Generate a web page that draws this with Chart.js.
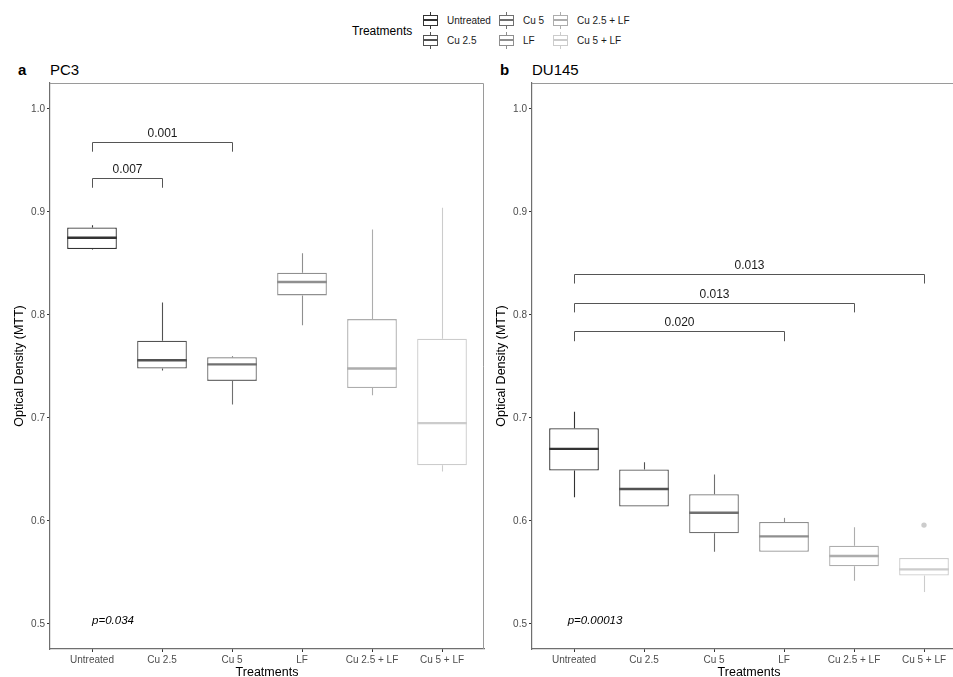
<!DOCTYPE html>
<html>
<head>
<meta charset="utf-8">
<title>Optical Density (MTT) - PC3 / DU145</title>
<script src="https://cdn.jsdelivr.net/npm/chart.js@4.4.1/dist/chart.umd.min.js"></script>
<style>
    html, body {
        margin: 0;
        padding: 0;
        width: 953px;
        height: 677px;
        overflow: hidden;
        background: #fff;
        font-family: 'Liberation Sans', Arial, sans-serif;
        position: relative;
    }
    .panel {
        position: absolute;
        top: 60px;
        width: 492px;
        height: 620px;
    }
    .panel-tag {
        position: absolute;
        top: 61px;
        font-size: 15px;
        line-height: 18px;
        font-weight: bold;
        color: #000;
    }
    .panel-title {
        position: absolute;
        top: 61px;
        font-size: 15px;
        line-height: 18px;
        color: #000;
    }
    .legend-title {
        position: absolute;
        left: 352px;
        top: 24px;
        font-size: 12px;
        line-height: 15px;
        color: #000;
    }
    .legend-label {
        position: absolute;
        font-size: 10px;
        line-height: 12px;
        color: #1a1a1a;
        white-space: nowrap;
    }
    .legend-key {
        position: absolute;
        width: 15px;
        height: 17px;
    }
    .legend-key .whisker {
        position: absolute;
        left: 7px;
        width: 1px;
        height: 3px;
    }
    .legend-key .box {
        position: absolute;
        left: 0;
        top: 3px;
        width: 13px;
        height: 9px;
        border: 1px solid;
        background: #fff;
    }
    .legend-key .median {
        position: absolute;
        left: 0;
        top: 7px;
        width: 15px;
        height: 2px;
    }
</style>
</head>
<body>

<div class="legend-title">Treatments</div>
<div id="legend"></div>

<div class="panel-tag" style="left:18px;">a</div>
<div class="panel-title" style="left:50px;">PC3</div>
<div class="panel-tag" style="left:500px;">b</div>
<div class="panel-title" style="left:532px;">DU145</div>

<canvas id="chart-pc3" class="panel" width="492" height="620" style="left:0px;"></canvas>
<canvas id="chart-du145" class="panel" width="492" height="620" style="left:482px;"></canvas>

<script>
/**
 * Datos
 */
const categories = ['Untreated', 'Cu 2.5', 'Cu 5', 'LF', 'Cu 2.5 + LF', 'Cu 5 + LF'];
const categoryColors = ['#333333', '#525252', '#707070', '#8f8f8f', '#adadad', '#cccccc'];
const yTickValues = [0.5, 0.6, 0.7, 0.8, 0.9, 1.0];

// PC3
const pc3Min = [0.8635, 0.746, 0.713, 0.790, 0.722, 0.648];
const pc3Q1 = [0.864, 0.748, 0.736, 0.819, 0.729, 0.654];
const pc3Median = [0.875, 0.756, 0.752, 0.832, 0.748, 0.695];
const pc3Q3 = [0.885, 0.775, 0.759, 0.841, 0.796, 0.777];
const pc3Max = [0.887, 0.812, 0.760, 0.860, 0.883, 0.904];
const pc3OutlierCats = [];
const pc3OutlierValues = [];
const pc3BracketFrom = [0, 0];
const pc3BracketTo = [1, 2];
const pc3BracketY = [0.933, 0.968];
const pc3BracketLabels = ['0.007', '0.001'];
const pc3PValue = 'p=0.034';

// DU145
const du145Min = [0.623, 0.614, 0.570, 0.570, 0.542, 0.531];
const du145Q1 = [0.649, 0.614, 0.588, 0.570, 0.556, 0.547];
const du145Median = [0.670, 0.631, 0.608, 0.585, 0.566, 0.553];
const du145Q3 = [0.690, 0.650, 0.626, 0.599, 0.576, 0.564];
const du145Max = [0.706, 0.657, 0.645, 0.603, 0.594, 0.564];
const du145OutlierCats = [5];
const du145OutlierValues = [0.596];
const du145BracketFrom = [0, 0, 0];
const du145BracketTo = [3, 4, 5];
const du145BracketY = [0.784, 0.812, 0.840];
const du145BracketLabels = ['0.020', '0.013', '0.013'];
const du145PValue = 'p=0.00013';

const yMin = 0.4757;
const yMax = 1.0252;

Chart.defaults.font.family = "'Liberation Sans', Arial, sans-serif";

/**
 * Bigotes, medianas, corchetes y marco del panel
 */
const boxPlotExtras = {
    id: 'boxPlotExtras',
    beforeDatasetsDraw(chart, args, opts) {
        const { ctx, scales: { x, y } } = chart;
        const s = opts.stats;
        ctx.save();
        ctx.lineWidth = 1.1;
        s.median.forEach((m, i) => {
            const px = Math.round(x.getPixelForValue(i)) + 0.5;
            ctx.strokeStyle = categoryColors[i];
            ctx.beginPath();
            ctx.moveTo(px, y.getPixelForValue(s.q3[i]));
            ctx.lineTo(px, y.getPixelForValue(s.max[i]));
            ctx.moveTo(px, y.getPixelForValue(s.q1[i]));
            ctx.lineTo(px, y.getPixelForValue(s.min[i]));
            ctx.stroke();
        });
        ctx.restore();
    },
    afterDatasetsDraw(chart, args, opts) {
        const { ctx, chartArea, scales: { x, y } } = chart;
        const s = opts.stats;
        const boxes = chart.getDatasetMeta(0).data;
        ctx.save();

        // medianas
        ctx.lineWidth = 2.4;
        s.median.forEach((m, i) => {
            const bar = boxes[i];
            const py = y.getPixelForValue(m);
            ctx.strokeStyle = categoryColors[i];
            ctx.beginPath();
            ctx.moveTo(bar.x - bar.width / 2, py);
            ctx.lineTo(bar.x + bar.width / 2, py);
            ctx.stroke();
        });

        // corchetes de comparación
        const b = opts.brackets;
        ctx.lineWidth = 1;
        ctx.strokeStyle = '#555555';
        ctx.fillStyle = '#1a1a1a';
        ctx.font = "12px 'Liberation Sans', Arial, sans-serif";
        ctx.textAlign = 'center';
        ctx.textBaseline = 'alphabetic';
        b.from.forEach((from, i) => {
            const x1 = Math.round(x.getPixelForValue(from)) + 0.5;
            const x2 = Math.round(x.getPixelForValue(b.to[i])) + 0.5;
            const yTop = Math.round(y.getPixelForValue(b.y[i])) + 0.5;
            const yEnd = y.getPixelForValue(b.y[i] - 0.0095);
            ctx.beginPath();
            ctx.moveTo(x1, yEnd);
            ctx.lineTo(x1, yTop);
            ctx.lineTo(x2, yTop);
            ctx.lineTo(x2, yEnd);
            ctx.stroke();
            ctx.fillText(b.labels[i], (x1 + x2) / 2, yTop - 5.5);
        });

        // valor p global
        ctx.font = "italic 11.5px 'Liberation Sans', Arial, sans-serif";
        ctx.fillStyle = '#000';
        ctx.fillText(opts.pLabel, x.getPixelForValue(0.3), y.getPixelForValue(0.5));

        // borde superior y derecho del panel
        ctx.strokeStyle = '#9a9a9a';
        ctx.lineWidth = 1;
        ctx.beginPath();
        ctx.moveTo(chartArea.left, chartArea.top + 0.5);
        ctx.lineTo(chartArea.right - 0.5, chartArea.top + 0.5);
        ctx.lineTo(chartArea.right - 0.5, chartArea.bottom);
        ctx.stroke();
        ctx.restore();
    }
};

/**
 * Construye un panel de diagramas de caja
 */
function buildBoxChart(canvasId, stats, brackets, pLabel) {
    const ctx = document.getElementById(canvasId);

    const boxData = categories.map((c, i) => ({ x: i, y: [stats.q1[i], stats.q3[i]] }));
    const outlierData = stats.outlierCats.map((c, i) => ({ x: c, y: stats.outlierValues[i] }));

    return new Chart(ctx, {
        type: 'bar',
        data: {
            datasets: [{
                label: 'box',
                data: boxData,
                backgroundColor: '#ffffff',
                borderColor: categoryColors,
                borderWidth: 1.3,
                borderSkipped: false,
                barPercentage: 0.71,
                categoryPercentage: 1
            }, {
                type: 'scatter',
                label: 'outliers',
                data: outlierData,
                backgroundColor: stats.outlierCats.map(c => categoryColors[c]),
                borderWidth: 0,
                pointRadius: 2.7
            }]
        },
        options: {
            responsive: false,
            devicePixelRatio: 1,
            animation: false,
            events: [],
            layout: { padding: { top: 23, right: 8, left: 0, bottom: 0 } },
            plugins: {
                legend: { display: false },
                tooltip: { enabled: false },
                boxPlotExtras: { stats, brackets, pLabel }
            },
            scales: {
                x: {
                    type: 'linear',
                    min: -0.6,
                    max: 5.6,
                    offset: false,
                    afterBuildTicks: scale => {
                        scale.ticks = categories.map((c, i) => ({ value: i }));
                    },
                    afterFit: scale => { scale.height = 31; },
                    grid: { display: true, drawOnChartArea: false, offset: false, tickLength: 3, tickColor: '#333333' },
                    border: { display: true, color: '#6f6f6f', width: 1.2 },
                    ticks: {
                        autoSkip: false,
                        maxRotation: 0,
                        padding: 2,
                        color: '#4d4d4d',
                        font: { size: 10 },
                        callback: value => categories[value]
                    },
                    title: {
                        display: true,
                        text: 'Treatments',
                        color: '#000',
                        font: { size: 12.5 },
                        padding: { top: 0, bottom: 0 }
                    }
                },
                y: {
                    min: yMin,
                    max: yMax,
                    beginAtZero: false,
                    afterBuildTicks: scale => {
                        scale.ticks = yTickValues.map(v => ({ value: v }));
                    },
                    afterFit: scale => { scale.width = 50; },
                    grid: { display: true, drawOnChartArea: false, tickLength: 3, tickColor: '#333333' },
                    border: { display: true, color: '#6f6f6f', width: 1.2 },
                    ticks: {
                        padding: 2,
                        color: '#4d4d4d',
                        font: { size: 10 },
                        callback: value => value.toFixed(1)
                    },
                    title: {
                        display: true,
                        text: 'Optical Density (MTT)',
                        color: '#000',
                        font: { size: 12.5 },
                        padding: { top: 12, bottom: 0 }
                    }
                }
            }
        },
        plugins: [boxPlotExtras]
    });
}

/**
 * Leyenda superior (HTML)
 */
function buildLegend() {
    const container = document.getElementById('legend');
    const colX = [423, 499, 553];
    const labelX = [447, 523, 577];
    const rowY = [20.7, 40.7];

    let html = '';
    categories.forEach((cat, i) => {
        const col = Math.floor(i / 2);
        const row = i % 2;
        const color = categoryColors[i];
        const top = rowY[row] - 8.5;
        html += `
            <div class="legend-key" style="left:${colX[col]}px; top:${top}px;">
                <div class="whisker" style="top:0; background:${color};"></div>
                <div class="box" style="border-color:${color};"></div>
                <div class="median" style="background:${color};"></div>
                <div class="whisker" style="top:14px; background:${color};"></div>
            </div>
            <div class="legend-label" style="left:${labelX[col]}px; top:${rowY[row] - 6}px;">${cat}</div>
        `;
    });
    container.innerHTML = html;
}

buildLegend();

buildBoxChart('chart-pc3', {
    min: pc3Min, q1: pc3Q1, median: pc3Median, q3: pc3Q3, max: pc3Max,
    outlierCats: pc3OutlierCats, outlierValues: pc3OutlierValues
}, {
    from: pc3BracketFrom, to: pc3BracketTo, y: pc3BracketY, labels: pc3BracketLabels
}, pc3PValue);

buildBoxChart('chart-du145', {
    min: du145Min, q1: du145Q1, median: du145Median, q3: du145Q3, max: du145Max,
    outlierCats: du145OutlierCats, outlierValues: du145OutlierValues
}, {
    from: du145BracketFrom, to: du145BracketTo, y: du145BracketY, labels: du145BracketLabels
}, du145PValue);
</script>
</body>
</html>
